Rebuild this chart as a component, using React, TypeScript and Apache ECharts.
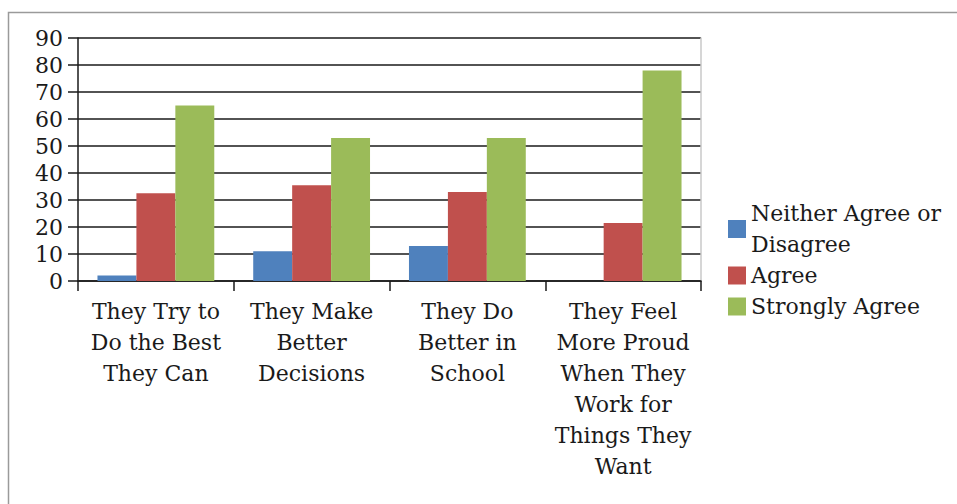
import React, { useEffect, useRef } from "react";
import * as echarts from "echarts";

// Survey statements (x-axis categories, wrapped as drawn)
const categories = [
  "They Try to\nDo the Best\nThey Can",
  "They Make\nBetter\nDecisions",
  "They Do\nBetter in\nSchool",
  "They Feel\nMore Proud\nWhen They\nWork for\nThings They\nWant",
];

const seriesNames = ["Neither Agree or\nDisagree", "Agree", "Strongly Agree"];

// Percent of responses per statement
const neitherValues = [2, 11, 13, 0];
const agreeValues = [32.5, 35.5, 33, 21.5];
const stronglyAgreeValues = [65, 53, 53, 78];

const yTicks = { min: 0, max: 90, interval: 10 };

const colors = ["#4F81BD", "#C0504D", "#9BBB59"];

const FONT = "DejaVu Serif";
const TEXT_COLOR = "#1a1a1a";

export default function App() {
  const ref = useRef<HTMLDivElement>(null);

  useEffect(() => {
    if (!ref.current) return;
    const chart = echarts.init(ref.current, undefined, { renderer: "svg" });
    const values = [neitherValues, agreeValues, stronglyAgreeValues];
    chart.setOption({
      animation: false,
      backgroundColor: "#ffffff",
      color: colors,
      textStyle: { fontFamily: FONT },
      graphic: [
        {
          type: "rect",
          shape: { x: 8.5, y: 12.5, width: 960, height: 500 },
          style: { fill: "none", stroke: "#9a9a9a", lineWidth: 1.5 },
          silent: true,
        },
      ],
      grid: { left: 78, right: 256, top: 38, bottom: 223, containLabel: false },
      legend: {
        orient: "vertical",
        left: 723,
        top: 193,
        itemWidth: 18,
        itemHeight: 18,
        itemGap: 0,
        icon: "rect",
        textStyle: {
          fontFamily: FONT,
          fontSize: 22,
          lineHeight: 31,
          color: TEXT_COLOR,
        },
        data: seriesNames,
      },
      xAxis: {
        type: "category",
        data: categories,
        axisLine: { show: true, lineStyle: { color: TEXT_COLOR, width: 1.5 } },
        axisTick: { show: true, length: 10, lineStyle: { color: TEXT_COLOR, width: 1.5 } },
        axisLabel: {
          interval: 0,
          margin: 15,
          fontFamily: FONT,
          fontSize: 22,
          lineHeight: 31,
          color: TEXT_COLOR,
          align: "center",
        },
      },
      yAxis: [
        {
          type: "value",
          min: yTicks.min,
          max: yTicks.max,
          interval: yTicks.interval,
          axisLine: { show: true, lineStyle: { color: TEXT_COLOR, width: 1.5 } },
          axisTick: { show: true, length: 10, lineStyle: { color: TEXT_COLOR, width: 1.5 } },
          axisLabel: {
            margin: 15,
            fontFamily: FONT,
            fontSize: 22,
            color: TEXT_COLOR,
          },
          splitLine: { show: true, lineStyle: { color: TEXT_COLOR, width: 1.6 } },
        },
        {
          type: "value",
          position: "right",
          min: yTicks.min,
          max: yTicks.max,
          interval: yTicks.interval,
          axisLine: { show: true, lineStyle: { color: "#c8c8c8", width: 1.5 } },
          axisTick: { show: false },
          axisLabel: { show: false },
          splitLine: { show: false },
        },
      ],
      series: seriesNames.map((name, i) => ({
        name,
        type: "bar",
        data: values[i],
        barGap: "0%",
        barCategoryGap: "25%",
        itemStyle: { color: colors[i] },
      })),
    });
    return () => chart.dispose();
  }, []);

  return (
    <div
      ref={ref}
      style={{ position: "absolute", left: 0, top: 0, width: 957, height: 504 }}
    />
  );
}
